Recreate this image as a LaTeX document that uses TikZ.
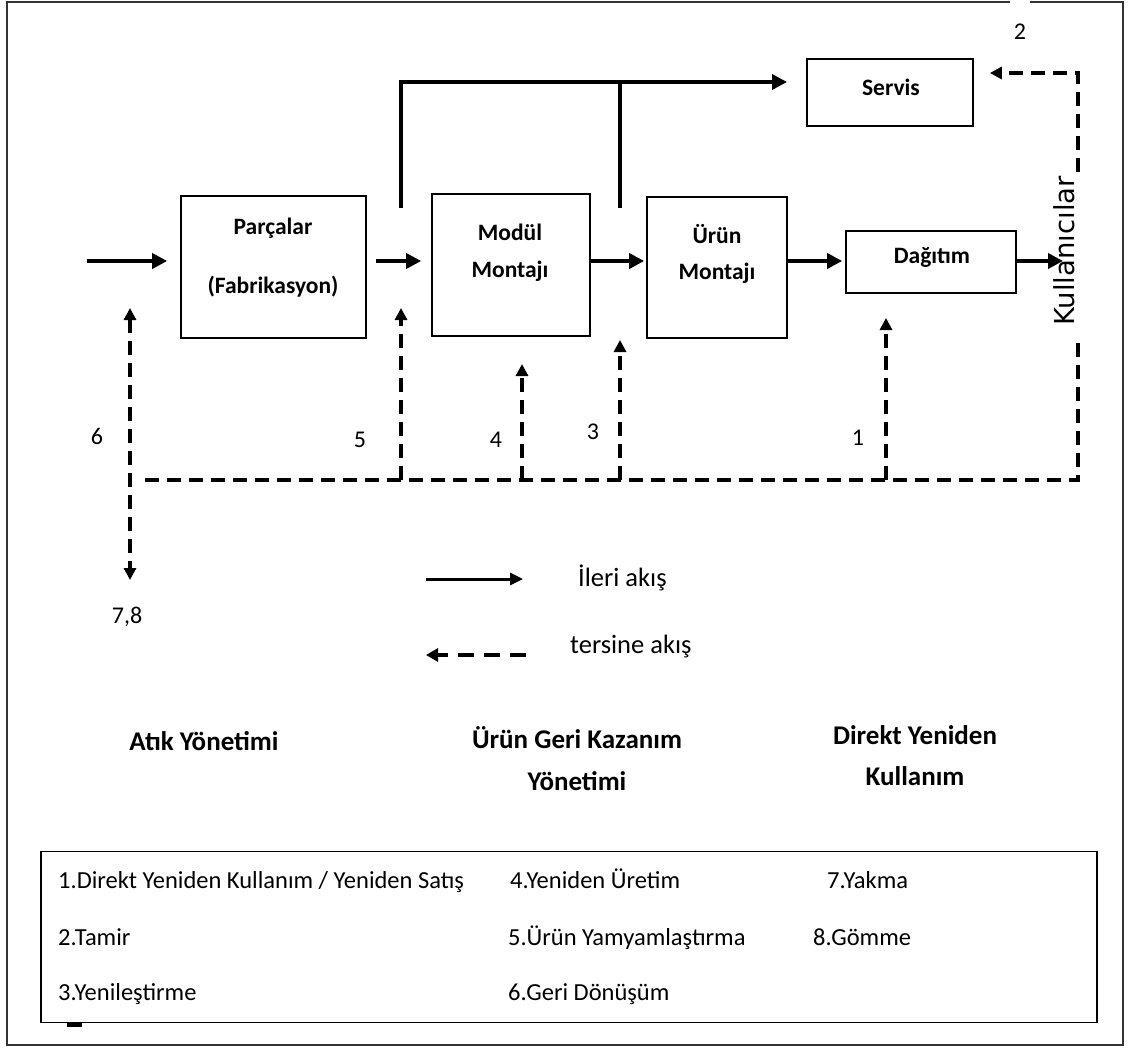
\documentclass[tikz,border=0pt]{standalone}
\usepackage{fontspec}
\setmainfont{Carlito}
\newfontfamily\userfont{DejaVu Sans}
\usetikzlibrary{arrows.meta}

\begin{document}
\begin{tikzpicture}[x=1pt,y=-1pt,
  frame/.style={draw=black!80,line width=1.8pt},
  box/.style={draw,line width=1.7pt,inner sep=0pt},
  boxtext/.style={font=\bfseries\fontsize{23.5}{26}\selectfont,inner sep=0pt},
  heading/.style={font=\bfseries\fontsize{27}{30}\selectfont,inner sep=0pt,anchor=base},
  plain/.style={font=\fontsize{26.5}{30}\selectfont,inner sep=0pt,anchor=base west},
  listitem/.style={font=\fontsize{24.5}{28}\selectfont,inner sep=0pt,anchor=base west},
  num/.style={font=\fontsize{24}{28}\selectfont,inner sep=0pt},
  fwd/.style={line width=3.6pt,-{Triangle[length=15pt,width=15pt]}},
  branch/.style={line width=3.6pt},
  rev/.style={line width=3.4pt,dash pattern=on 14pt off 8pt},
  revtip/.style={rev,-{Triangle[length=12pt,width=12pt]}}
]
\useasboundingbox (0,0) rectangle (1131,1048);

% outer frame, open for a short stretch at the top right
\draw[frame] (1030,2) -- (1123,2) -- (1123,1045) -- (7,1045) -- (7,2) -- (1010,2);

% process boxes
\node[box,minimum width=185pt,minimum height=142pt] (parts)   at (273.5,267) {};
\node[box,minimum width=158pt,minimum height=142pt] (module)  at (511,265) {};
\node[box,minimum width=140pt,minimum height=141pt] (product) at (717,267.5) {};
\node[box,minimum width=170pt,minimum height=62pt]  (distrib) at (931,262) {};
\node[box,minimum width=166pt,minimum height=67pt]  (service) at (890,92.5) {};

% box labels
\node[boxtext] (tparts1) at (273,228) {Parçalar};
\node[boxtext] (tparts2) at (273,287) {(Fabrikasyon)};
\node[boxtext] (tmod1)   at (510,232) {Modül};
\node[boxtext] (tmod2)   at (510,271) {Montajı};
\node[boxtext] (tprod1)  at (717,234) {Ürün};
\node[boxtext] (tprod2)  at (717,273) {Montajı};
\node[boxtext] (tdist)   at (932,257) {Dağıtım};
\node[boxtext] (tserv)   at (891,87)  {Servis};
\node[font=\userfont\fontsize{27.5}{31}\selectfont,rotate=90,inner sep=0pt] (users) at (1064,251) {Kullanıcılar};

% forward flow
\coordinate (inlet)  at (87,261);
\coordinate (outlet) at (1063,261);
\draw[fwd,shorten >=13pt] (inlet) -- (inlet -| parts.west);
\draw[fwd,shorten <=9pt,shorten >=10pt] (parts.east |- inlet) -- (module.west |- inlet);
\draw[fwd,shorten >=2pt] (module.east |- inlet) -- (product.west |- inlet);
\draw[fwd,shorten >=3pt] (product.east |- inlet) -- (distrib.west |- inlet);
\draw[fwd] (distrib.east |- inlet) -- (outlet);

% forward branch to the service box
\coordinate (brA)   at (401,208);
\coordinate (brB)   at (620,208);
\coordinate (svcin) at (787,82);
\draw[branch,-{Triangle[length=15pt,width=15pt]},line join=miter] (brA) |- (svcin);
\draw[branch] (brB) -- (brB |- svcin);

% reverse flow: collecting line
\coordinate (trunkL) at (145,480);
\coordinate (trunkR) at (1078,480);
\coordinate (userslow) at (1078,338);
\draw[rev] (trunkL) -- (trunkR) -- (userslow);

% reverse flow: returns into the chain
\coordinate (r5) at (401,480);
\coordinate (r4) at (522,480);
\coordinate (r3) at (620,480);
\coordinate (r1) at (886,480);
\draw[revtip] (r5) -- (401,308);
\draw[revtip] (r4) -- (522,364);
\draw[revtip] (r3) -- (620,340);
\draw[revtip] (r1) -- (886,318);

% reverse flow: waste line, both directions
\coordinate (w6top) at (130,308);
\coordinate (w78)   at (130,580);
\draw[rev,{Triangle[length=12pt,width=12pt]}-{Triangle[length=12pt,width=12pt]}] (w6top) -- (w78);

% reverse flow: repair loop to the service box
\coordinate (rpA) at (1078,172);
\coordinate (rpB) at (1078,73);
\draw[revtip,shorten >=16pt] (rpA) -- (rpB) -- (service.east |- rpB);

% route numbers
\node[num] (n6)  at (97,436)  {6};
\node[num] (n5)  at (360,440) {5};
\node[num] (n4)  at (496,440) {4};
\node[num] (n3)  at (593,432) {3};
\node[num] (n1)  at (858,438) {1};
\node[num] (n2)  at (1020,32) {2};
\node[num] (n78) at (127,617) {7,8};

% key to line styles
\coordinate (kfA) at (426,579);
\coordinate (kfB) at (523,579);
\draw[line width=3pt,-{Triangle[length=13pt,width=12pt]}] (kfA) -- (kfB);
\node[plain] (kfwd) at (578,586) {İleri akış};
\coordinate (krA) at (526,655);
\coordinate (krB) at (426,655);
\draw[line width=3.2pt,dash pattern=on 16pt off 10pt,-{Triangle[length=12pt,width=13pt]}] (krA) -- (krB);
\node[plain] (krev) at (570,653) {tersine akış};

% management areas
\node[heading] (hwaste) at (204,750) {Atık Yönetimi};
\node[heading] (hrec1)  at (577,748) {Ürün Geri Kazanım};
\node[heading] (hrec2)  at (577,790) {Yönetimi};
\node[heading] (hdir1)  at (915,744) {Direkt Yeniden};
\node[heading] (hdir2)  at (915,785) {Kullanım};

% list of recovery options
\node[draw,line width=1.8pt,minimum width=1056pt,minimum height=171pt,inner sep=0pt] (legend) at (569,937) {};
\fill (67,1023) rectangle (82,1027);
\node[listitem] (l1) at (58,888)  {1.Direkt Yeniden Kullanım / Yeniden Satış};
\node[listitem] (l2) at (58,945)  {2.Tamir};
\node[listitem] (l3) at (58,1000) {3.Yenileştirme};
\node[listitem] (l4) at (510,888) {4.Yeniden Üretim};
\node[listitem] (l5) at (508,945) {5.Ürün Yamyamlaştırma};
\node[listitem] (l6) at (508,1000) {6.Geri Dönüşüm};
\node[listitem] (l7) at (827,888) {7.Yakma};
\node[listitem] (l8) at (813,945) {8.Gömme};
\end{tikzpicture}
\end{document}
